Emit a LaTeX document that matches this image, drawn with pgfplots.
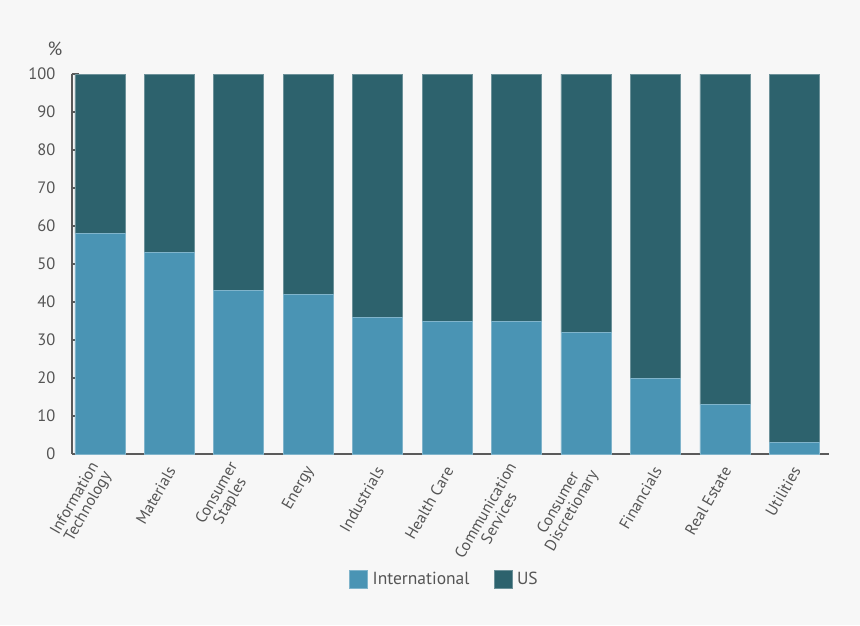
\documentclass[border=0pt]{standalone}
\usepackage{fontspec}
\setmainfont{PT Sans}
\usepackage{pgfplots}
\pgfplotsset{compat=1.18}
\definecolor{intl}{HTML}{4A94B4}
\definecolor{us}{HTML}{2D626D}
\definecolor{bg}{HTML}{F7F7F7}
\definecolor{axisgray}{HTML}{5A5A5A}
\definecolor{txt}{HTML}{555555}

\pgfplotstableread{
x  intl us
0  58  42
1  53  47
2  43  57
3  42  58
4  36  64
5  35  65
6  35  65
7  32  68
8  20  80
9  13  87
10 3   97
}\sectors

\begin{document}
\begin{tikzpicture}
\fill[bg] (-72pt,-171pt) rectangle (788pt,454pt);
\begin{axis}[
    at={(0,0)}, anchor=south west,
    scale only axis,
    width=757pt, height=380pt,
    ybar stacked,
    bar width=50pt,
    xmin=-0.4, xmax=10.5,
    ymin=0, ymax=100,
    ytick={0,10,...,100},
    xtick=data,
    xticklabels={Information\\Technology, Materials, Consumer\\Staples, Energy, Industrials, Health Care, Communication\\Services, Consumer\\Discretionary, Financials, Real Estate, Utilities},
    axis x line*=bottom,
    axis y line*=left,
    axis line style={draw=axisgray, line width=1.6pt, -},
    x tick style={draw=none},
    y tick style={draw=axisgray, line width=1.6pt},
    tick align=inside,
    major tick length=7pt,
    tick label style={font=\fontsize{16.5}{18}\selectfont, text=txt},
    /pgf/number format/assume math mode=true,
    yticklabel style={xshift=-13pt},
    xticklabel style={xshift=4pt, yshift=-11pt, rotate=60, anchor=east, align=center, font=\fontsize{16}{15.5}\selectfont},
    legend style={
        at={(0.492,-0.30)}, anchor=north,
        draw=none, fill=none,
        legend columns=-1,
        font=\fontsize{17.5}{19}\selectfont, text=txt,
        /tikz/every even column/.append style={column sep=22pt},
        /tikz/every odd column/.append style={column sep=3pt},
    },
    legend image code/.code={
        \fill[#1] (0pt,-9pt) rectangle (18pt,9pt);
    },
    clip=false,
]
\addplot[fill=intl, draw=intl!70!white, line width=0.5pt] table[x=x, y=intl] {\sectors};
\addlegendentry{International}
\addplot[fill=us, draw=us!70!white, line width=0.5pt] table[x=x, y=us] {\sectors};
\addlegendentry{US}
\node[text=txt, font=\fontsize{19}{21}\selectfont] at (rel axis cs:0,1) [xshift=-17pt, yshift=25pt] {\%};
\end{axis}
\end{tikzpicture}
\end{document}
